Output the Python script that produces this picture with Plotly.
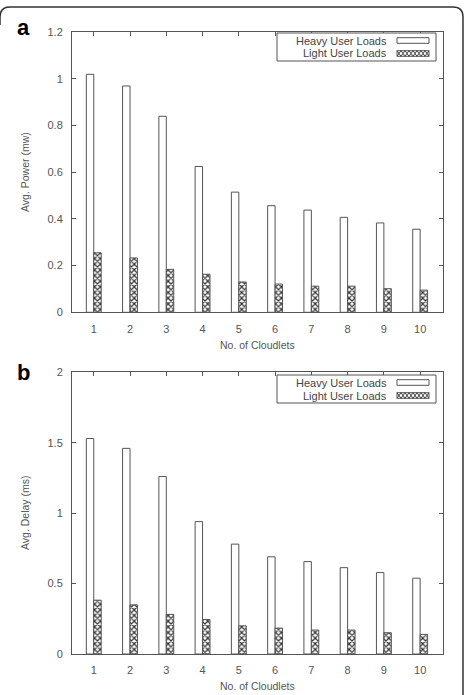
import plotly.graph_objects as go

W, H = 465, 695

cloudlets = [1, 2, 3, 4, 5, 6, 7, 8, 9, 10]
power_heavy = [1.02, 0.97, 0.84, 0.625, 0.515, 0.457, 0.438, 0.407, 0.383, 0.356]
power_light = [0.255, 0.233, 0.184, 0.163, 0.130, 0.121, 0.112, 0.112, 0.101, 0.095]
delay_heavy = [1.53, 1.46, 1.26, 0.94, 0.78, 0.69, 0.656, 0.613, 0.578, 0.538]
delay_light = [0.382, 0.349, 0.281, 0.245, 0.200, 0.184, 0.170, 0.170, 0.151, 0.139]
series_names = ["Heavy User Loads", "Light User Loads"]
power_ticks = [0, 0.2, 0.4, 0.6, 0.8, 1, 1.2]
delay_ticks = [0, 0.5, 1, 1.5, 2]

GRAY = "#555555"
TXT = "#555555"
FONT = "Liberation Sans, Arial, sans-serif"

def px(x):
    return x / W

def py(y):
    return 1 - y / H

fig = go.Figure()

for (heavy, light, xa, ya) in [(power_heavy, power_light, "x", "y"),
                               (delay_heavy, delay_light, "x2", "y2")]:
    fig.add_trace(go.Bar(
        x=cloudlets, y=heavy, name=series_names[0], xaxis=xa, yaxis=ya,
        marker=dict(color="white", line=dict(color=GRAY, width=1)),
        showlegend=False))
    fig.add_trace(go.Bar(
        x=cloudlets, y=light, name=series_names[1], xaxis=xa, yaxis=ya,
        marker=dict(color="white", line=dict(color=GRAY, width=1),
                    pattern=dict(shape="x", size=4, solidity=0.5,
                                 fgcolor="#333333", bgcolor="white")),
        showlegend=False))

xdom = [px(72), px(443)]
top_dom = [py(312.3), py(32.3)]
bot_dom = [py(654), py(372.3)]

axis_common = dict(showline=True, linecolor=GRAY, linewidth=1, mirror="ticks",
                   ticks="inside", ticklen=4, tickcolor=GRAY, showgrid=False,
                   zeroline=False, automargin=False,
                   tickfont=dict(family=FONT, size=11, color=TXT))

fig.update_layout(
    template="none",
    width=W, height=H, autosize=False,
    margin=dict(l=0, r=0, t=0, b=0, pad=0),
    paper_bgcolor="white", plot_bgcolor="white",
    font=dict(family=FONT, color=TXT),
    barmode="group", bargap=0.59, bargroupgap=0,
    showlegend=False,
    xaxis=dict(domain=xdom, anchor="y", range=[0.4, 10.63], tickvals=cloudlets,
               ticklabelstandoff=6, **axis_common),
    yaxis=dict(domain=top_dom, anchor="x", range=[0, 1.2], tickvals=power_ticks,
               ticktext=[f"{v:g}" for v in power_ticks], ticklabelstandoff=6, **axis_common),
    xaxis2=dict(domain=xdom, anchor="y2", range=[0.4, 10.63], tickvals=cloudlets,
                ticklabelstandoff=6, **axis_common),
    yaxis2=dict(domain=bot_dom, anchor="x2", range=[0, 2], tickvals=delay_ticks,
                ticktext=[f"{v:g}" for v in delay_ticks], ticklabelstandoff=6, **axis_common),
)

annotations = []
shapes = []

def ann(text, x, y, size, color, xanchor="center", angle=0):
    annotations.append(dict(text=text, x=px(x), y=py(y), xref="paper", yref="paper",
                            xanchor=xanchor, yanchor="middle", showarrow=False,
                            textangle=angle, font=dict(family=FONT, size=size, color=color)))

# panel labels
ann("<b>a</b>", 23, 27, 22, "black")
ann("<b>b</b>", 23, 373, 22, "black")

# axis titles
ann("Avg. Power (mw)", 25, 172, 10.5, TXT, angle=-90)
ann("Avg. Delay (ms)", 25, 513, 10.5, TXT, angle=-90)
ann("No. of Cloudlets", 257, 345, 10.5, TXT)
ann("No. of Cloudlets", 257, 686, 10.5, TXT)

# legends (text right-aligned, sample on the right)
for top in [33, 375]:
    shapes.append(dict(type="rect", xref="paper", yref="paper",
                       x0=px(277), x1=px(436), y0=py(top + 28), y1=py(top),
                       line=dict(color=GRAY, width=1), fillcolor="white"))
    for i, name in enumerate(series_names):
        yc = top + 7.5 + i * 13
        ann(name, 389, yc, 11, "#444444", xanchor="right")
        x0s, x1s = 397, 429
        y0s, y1s = yc - 2.8, yc + 2.8
        shapes.append(dict(type="rect", xref="paper", yref="paper",
                           x0=px(x0s), x1=px(x1s), y0=py(y1s), y1=py(y0s),
                           line=dict(color=GRAY, width=1), fillcolor="white"))
        if i == 1:
            # crosshatch sample
            step = 4
            p1, p2 = [], []
            k = 0
            xx = x0s
            while xx <= x1s + 0.01:
                ya_ = y0s if k % 2 == 0 else y1s
                yb_ = y1s if k % 2 == 0 else y0s
                p1.append(f"{px(xx)},{py(ya_)}")
                p2.append(f"{px(xx)},{py(yb_)}")
                xx += step
                k += 1
            for pts in (p1, p2):
                shapes.append(dict(type="path", xref="paper", yref="paper",
                                   path="M " + " L ".join(pts),
                                   line=dict(color="#444444", width=1)))

# outer rounded frame (top and right edges)
r = 10
path = (f"M {px(0)},{py(7 + r + 8)} L {px(0)},{py(7 + r)} Q {px(0)},{py(7)} {px(r)},{py(7)} "
        f"L {px(463 - r)},{py(7)} Q {px(463)},{py(7)} {px(463)},{py(7 + r)} L {px(463)},{py(700)}")
shapes.append(dict(type="path", path=path, xref="paper", yref="paper",
                   line=dict(color="#333333", width=1.5)))

fig.update_layout(annotations=annotations, shapes=shapes)

fig.write_html("out.html")
